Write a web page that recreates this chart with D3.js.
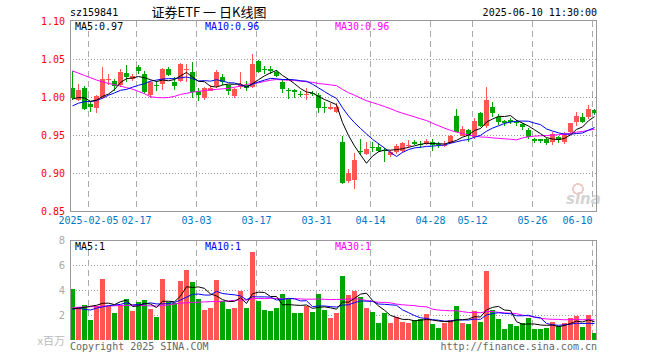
<!DOCTYPE html>
<html>
    <head>
        <meta charset="utf-8">
        <style>
            body{
                margin: 0;
                background-color: #fff;
            }
            text{
                font-family: "DejaVu Sans Mono", monospace;
                font-size: 10px;
            }
        </style>
        <script src="https://d3js.org/d3.v7.min.js"></script>
    </head>
    <body>
        <script>
            const dates = ["01-23","01-24","01-27","02-05","02-06","02-07","02-10","02-11","02-12","02-13","02-14","02-17","02-18","02-19","02-20","02-21","02-24","02-25","02-26","02-27","02-28",
                "03-03","03-04","03-05","03-06","03-07","03-10","03-11","03-12","03-13","03-14","03-17","03-18","03-19","03-20","03-21","03-24","03-25","03-26","03-27","03-28","03-31",
                "04-01","04-02","04-03","04-07","04-08","04-09","04-10","04-11","04-14","04-15","04-16","04-17","04-18","04-21","04-22","04-23","04-24","04-25","04-28","04-29","04-30",
                "05-06","05-07","05-08","05-09","05-12","05-13","05-14","05-15","05-16","05-19","05-20","05-21","05-22","05-23","05-26","05-27","05-28","05-29","05-30",
                "06-03","06-04","06-05","06-06","06-09","06-10"];

            const open = [1.013,0.997,1.013,0.991,0.986,1.000,1.023,1.022,1.016,1.032,1.025,1.040,1.031,1.003,1.017,1.018,1.038,1.020,1.022,1.037,
                1.033,1.008,0.999,1.009,1.015,1.027,1.016,1.002,1.015,1.016,1.014,1.048,1.038,1.037,1.034,1.021,1.010,1.010,1.005,1.003,
                1.006,1.003,0.988,0.985,0.981,0.941,0.890,0.892,0.930,0.926,0.935,0.935,0.931,0.924,0.928,0.929,0.937,0.941,0.939,0.939,
                0.942,0.939,0.937,0.940,0.976,0.950,0.9575,0.948,0.979,0.963,0.988,0.974,0.969,0.970,0.968,0.965,0.957,0.945,0.945,0.945,
                0.941,0.948,0.941,0.955,0.968,0.975,0.974,0.984];
            const close = [0.999,1.010,0.985,0.987,1.0015,1.024,1.025,1.015,1.033,1.027,1.028,1.035,1.007,1.020,1.015,1.038,1.030,1.015,1.044,1.038,
                1.007,1.003,1.012,1.013,1.034,1.020,1.009,1.011,1.016,1.012,1.044,1.034,1.036,1.036,1.028,1.011,1.009,1.007,1.004,1.005,
                1.005,0.986,0.987,0.987,0.988,0.887,0.901,0.918,0.929,0.9325,0.934,0.929,0.930,0.928,0.936,0.940,0.938,0.940,0.938,0.943,
                0.938,0.937,0.938,0.950,0.955,0.959,0.950,0.969,0.963,0.997,0.979,0.968,0.968,0.969,0.966,0.961,0.948,0.944,0.943,0.940,
                0.952,0.944,0.952,0.966,0.976,0.968,0.985,0.979];
            const high = [1.035,1.018,1.015,0.996,1.003,1.040,1.031,1.025,1.038,1.043,1.031,1.043,1.035,1.022,1.022,1.039,1.040,1.027,1.045,1.044,
                1.047,1.013,1.014,1.016,1.036,1.031,1.017,1.012,1.033,1.022,1.057,1.049,1.042,1.042,1.036,1.025,1.012,1.011,1.008,1.013,
                1.008,1.006,0.994,0.993,0.993,0.949,0.906,0.927,0.945,0.941,0.942,0.940,0.933,0.931,0.939,0.941,0.944,0.944,0.943,0.946,
                0.946,0.941,0.943,0.951,0.985,0.962,0.958,0.973,0.981,1.014,0.994,0.978,0.971,0.973,0.971,0.966,0.960,0.947,0.946,0.947,
                0.954,0.950,0.954,0.967,0.981,0.979,0.990,0.985];
            const low = [0.997,0.995,0.983,0.981,0.979,0.998,1.016,1.009,1.014,1.020,1.022,1.031,1.005,1.000,1.008,1.010,1.028,1.010,1.020,1.020,
                1.000,0.996,0.997,1.008,1.012,1.016,1.003,0.999,1.011,1.009,1.012,1.032,1.031,1.031,1.027,1.006,0.998,0.999,1.001,0.997,
                1.002,0.980,0.980,0.983,0.980,0.886,0.888,0.880,0.924,0.925,0.928,0.928,0.915,0.922,0.926,0.927,0.934,0.937,0.934,0.937,
                0.930,0.934,0.935,0.939,0.954,0.949,0.942,0.946,0.961,0.960,0.974,0.964,0.963,0.965,0.962,0.957,0.945,0.940,0.940,0.938,
                0.938,0.940,0.939,0.952,0.963,0.966,0.972,0.977];
            const volume = [4.08,2.67,2.8,1.6,2.72,4.88,2.75,2.19,2.8,3.28,
                2.35,3.07,3.2,2.48,1.87,4.88,3.07,3.0,4.75,5.6,
                4.61,3.28,2.4,2.53,4.8,3.15,2.48,2.53,3.92,2.53,
                7.04,3.12,2.4,2.32,2.53,3.65,3.28,2.19,2.19,2.72,
                2.27,3.68,2.4,1.79,2.19,5.15,3.6,3.92,3.47,2.59,
                2.27,1.39,2.19,1.39,1.81,1.47,1.39,1.6,1.65,2.08,
                1.28,0.99,1.39,1.6,2.72,1.39,1.28,2.35,1.47,5.55,
                2.4,1.68,0.88,1.28,1.12,1.33,1.79,0.88,0.88,0.99,
                1.44,1.15,1.33,1.73,1.92,1.07,2.0,0.59];

            // averages before the window is full (carried over from earlier days)
            const ma5Head = [0.998,1.000,0.9995,0.995];
            const ma10Head = [0.989,0.9925,0.9945,0.9947,0.996,0.999,1.003,1.006,1.0095];
            const ma30Head = [1.035,1.032,1.029,1.026,1.023,1.0205,1.0185,1.017,1.015,1.013,1.011,1.008,1.005,1.001,1.000,0.9996,1.000,1.0015,1.004,1.0055,
                1.007,1.008,1.0092,1.010,1.0108,1.0114,1.012,1.0135,1.015];
            const volMa5Head = [2.5,2.55,2.6,2.7];
            const volMa10Head = [2.45,2.55,2.45,2.4,2.55,2.65,2.75,2.8,2.85];
            const volMa30Head = [2.6,2.62,2.64,2.66,2.68,2.7,2.72,2.74,2.76,2.77,2.78,2.77,2.75,2.73,2.72,2.75,2.8,2.88,2.95,2.98,
                3.0,3.02,3.05,3.07,3.08,3.1,3.13,3.17,3.2];

            const priceTicks = [1.10,1.05,1.00,0.95,0.90,0.85];
            const volTicks = [8,6,4,2];
            const tickDates = ["02-05","02-17","03-03","03-17","03-31","04-14","04-28","05-12","05-26","06-10"];
            const tickLabels = ["2025-02-05","02-17","03-03","03-17","03-31","04-14","04-28","05-12","05-26","06-10"];
            const priceMaText = ["MA5:0.97","MA10:0.96","MA30:0.96"];
            const volMaText = ["MA5:1","MA10:1","MA30:1"];
            const maColors = ["#000","#0000ff","#ff00ff"];

            const w = 660;
            const h = 360;
            const red = "#ff5555";
            const green = "#00a600";

            function movingAvg(values, n, head){
                return values.map((v,i) => {
                    if(i < n-1) return head[i];
                    return d3.mean(values.slice(i-n+1, i+1));
                });
            }

            const svg = d3.select("body")
                        .append("svg")
                        .attr("width",w)
                        .attr("height",h)
                        .attr("shape-rendering","crispEdges");

            const x = d3.scaleBand()
                        .domain(dates)
                        .range([70,597])
                        .paddingInner(1/6)
                        .paddingOuter(0);
            const y = d3.scaleLinear().domain([0.85,1.10]).range([211.5,21.5]);
            const vy = d3.scaleLinear().domain([0,8]).range([340,240]);
            const cx = d => x(d) + x.bandwidth()/2;

            // grid
            svg.selectAll(".hgrid")
                .data([1.05,1.00,0.95,0.90])
                .enter()
                .append("line")
                .attr("x1",70).attr("x2",597)
                .attr("y1",d => y(d)).attr("y2",d => y(d))
                .attr("stroke","#999")
                .attr("stroke-dasharray","1,2");
            svg.selectAll(".vgrid")
                .data([6,4,2])
                .enter()
                .append("line")
                .attr("x1",70).attr("x2",597)
                .attr("y1",d => vy(d)+0.5).attr("y2",d => vy(d)+0.5)
                .attr("stroke","#999")
                .attr("stroke-dasharray","1,2");
            [[21,211],[240,340]].forEach(r => {
                svg.selectAll(null)
                    .data(tickDates)
                    .enter()
                    .append("line")
                    .attr("x1",d => x(d)+0.5).attr("x2",d => x(d)+0.5)
                    .attr("y1",r[0]).attr("y2",r[1])
                    .attr("stroke","#aaa")
                    .attr("stroke-dasharray","6,4");
            });

            // watermark
            svg.append("circle")
                .attr("cx",578).attr("cy",189).attr("r",5)
                .attr("fill","none").attr("stroke","#f2caca").attr("stroke-width",2);
            svg.append("text")
                .attr("x",566).attr("y",204)
                .style("font-family","DejaVu Sans")
                .style("font-size","15px")
                .style("font-weight","bold")
                .style("font-style","italic")
                .attr("fill","#d4d4d4")
                .text("sina");

            // candles
            const colorOf = i => close[i] >= open[i] ? red : green;
            svg.selectAll(".wick")
                .data(dates)
                .enter()
                .append("line")
                .attr("x1",d => cx(d)).attr("x2",d => cx(d))
                .attr("y1",(d,i) => y(high[i])).attr("y2",(d,i) => y(low[i]))
                .attr("stroke",(d,i) => colorOf(i));
            svg.selectAll(".body")
                .data(dates)
                .enter()
                .append("rect")
                .attr("x",d => x(d))
                .attr("width",x.bandwidth())
                .attr("y",(d,i) => y(Math.max(open[i],close[i])))
                .attr("height",(d,i) => Math.max(1.5, y(Math.min(open[i],close[i])) - y(Math.max(open[i],close[i]))))
                .attr("fill",(d,i) => colorOf(i));

            // volume bars
            svg.selectAll(".vol")
                .data(volume)
                .enter()
                .append("rect")
                .attr("x",(d,i) => x(dates[i]))
                .attr("width",x.bandwidth())
                .attr("y",d => vy(d))
                .attr("height",d => 340 - vy(d))
                .attr("fill",(d,i) => colorOf(i));

            // moving averages
            const priceLine = d3.line().x((d,i) => cx(dates[i])).y(d => y(d));
            const volLine = d3.line().x((d,i) => cx(dates[i])).y(d => vy(d));
            const priceMas = [movingAvg(close,5,ma5Head), movingAvg(close,10,ma10Head), movingAvg(close,30,ma30Head)];
            const volMas = [movingAvg(volume,5,volMa5Head), movingAvg(volume,10,volMa10Head), movingAvg(volume,30,volMa30Head)];
            [2,1,0].forEach(k => {
                svg.append("path")
                    .attr("d",priceLine(priceMas[k]))
                    .attr("fill","none")
                    .attr("stroke",maColors[k])
                    .attr("stroke-width",1)
                    .attr("shape-rendering","auto");
                svg.append("path")
                    .attr("d",volLine(volMas[k]))
                    .attr("fill","none")
                    .attr("stroke",maColors[k])
                    .attr("stroke-width",1)
                    .attr("shape-rendering","auto");
            });

            // frames
            svg.append("path")
                .attr("d","M70.5,211.5V20.5H596.5V211.5H70.5")
                .attr("fill","none")
                .attr("stroke","#999");
            svg.append("path")
                .attr("d","M70.5,340V240.5H596.5V340")
                .attr("fill","none")
                .attr("stroke","#999");

            // axes
            const yAxis = svg.append("g")
                .attr("transform","translate(70,0)")
                .call(d3.axisLeft(y).tickValues(priceTicks).tickFormat(d3.format(".2f")).tickSize(0).tickPadding(5));
            yAxis.select(".domain").remove();
            yAxis.selectAll("text").attr("fill","#f00");

            const vAxis = svg.append("g")
                .attr("transform","translate(70,0)")
                .call(d3.axisLeft(vy).tickValues(volTicks).tickSize(0).tickPadding(5));
            vAxis.select(".domain").remove();
            vAxis.selectAll("text")
                .attr("fill","#aaa")
                .style("font-family","DejaVu Sans");

            const xAxis = svg.append("g")
                .attr("transform","translate(-2,211)")
                .call(d3.axisBottom(x).tickValues(tickDates).tickFormat((d,i) => tickLabels[i]).tickSize(0).tickPadding(6));
            xAxis.select(".domain").remove();
            xAxis.selectAll("text")
                .attr("fill","#0078c8")
                .attr("text-anchor",(d,i) => i == tickDates.length-1 ? "end" : "middle");

            // texts
            svg.append("text").attr("x",70).attr("y",16).text("sz159841");
            svg.append("text")
                .attr("x",209).attr("y",17)
                .attr("text-anchor","middle")
                .style("font-family","Noto Sans CJK SC")
                .style("font-size","13px")
                .text("证券ETF 一 日K线图");
            svg.append("text").attr("x",597).attr("y",16).attr("text-anchor","end").text("2025-06-10 11:30:00");

            svg.selectAll(".pma")
                .data(priceMaText)
                .enter()
                .append("text")
                .attr("x",(d,i) => 75 + i*130)
                .attr("y",30)
                .attr("fill",(d,i) => maColors[i])
                .text(d => d);
            svg.selectAll(".vma")
                .data(volMaText)
                .enter()
                .append("text")
                .attr("x",(d,i) => 75 + i*130)
                .attr("y",250)
                .attr("fill",(d,i) => maColors[i])
                .text(d => d);

            svg.append("text")
                .attr("x",65).attr("y",345)
                .attr("text-anchor","end")
                .attr("fill","#bbb")
                .style("font-family","Noto Sans CJK SC")
                .style("font-size","11px")
                .text("x百万");
            svg.append("text").attr("x",70).attr("y",350).attr("fill","#666").text("Copyright 2025 SINA.COM");
            svg.append("text").attr("x",597).attr("y",350).attr("text-anchor","end").attr("fill","#666").text("http://finance.sina.com.cn");
        </script>
    </body>
</html>
